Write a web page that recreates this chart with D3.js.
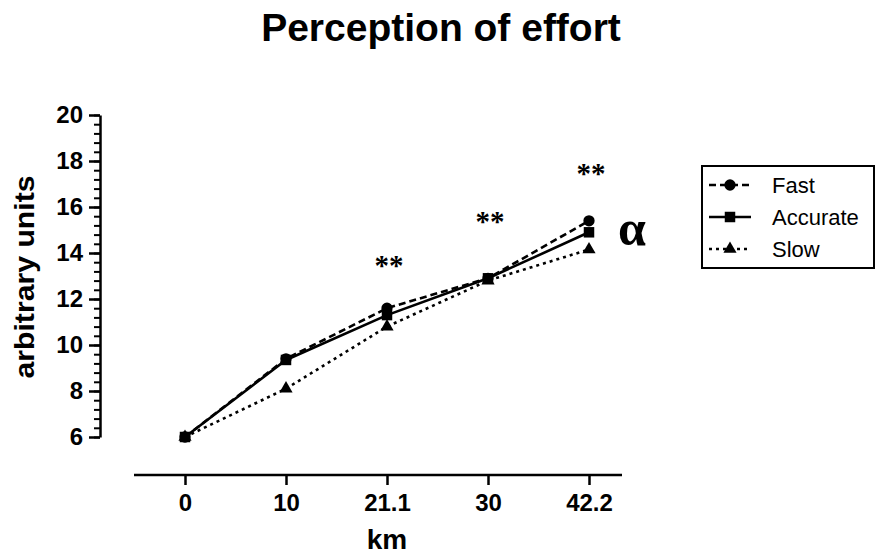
<!DOCTYPE html>
<html>
<head>
<meta charset="utf-8">
<script src="https://cdn.jsdelivr.net/npm/d3@7"></script>
<style>
  body { margin: 0; background: #fff; }
  svg { display: block; font-family: Arial, "Liberation Sans", sans-serif; }
</style>
</head>
<body>
<svg id="chart" width="877" height="556"></svg>
<script>
// data
var km = ["0", "10", "21.1", "30", "42.2"];
var fast = [6.0, 9.4, 11.6, 12.9, 15.4];
var accurate = [6.0, 9.35, 11.3, 12.9, 14.9];
var slow = [6.0, 8.1, 10.8, 12.8, 14.15];
var yTicks = [6, 8, 10, 12, 14, 16, 18, 20];
var stars = [null, null, "**", "**", "**"];
var starLevel = [null, null, 13.7, 15.6, 17.7];

var svg = d3.select("#chart");

var x = d3.scalePoint().domain(km).range([185, 589]);
var y = d3.scaleLinear().domain([6, 20]).range([437, 115]);

// title
svg.append("text")
    .attr("x", 441).attr("y", 41)
    .attr("text-anchor", "middle")
    .attr("font-size", "39px").attr("font-weight", "bold")
    .text("Perception of effort");

// y axis, minor ticks first
var yMinor = svg.append("g").attr("transform", "translate(100,0)")
    .call(d3.axisLeft(y).tickValues(d3.range(6, 20.01, 0.4)).tickSize(6).tickFormat(""));
yMinor.select(".domain").remove();
yMinor.selectAll("line").attr("stroke", "#000").attr("stroke-width", 2);

var yAxis = svg.append("g").attr("transform", "translate(100,0)")
    .call(d3.axisLeft(y).tickValues(yTicks).tickSize(11).tickSizeOuter(0).tickPadding(6));
yAxis.select(".domain").attr("stroke", "#000").attr("stroke-width", 2.5);
yAxis.selectAll("line").attr("stroke", "#000").attr("stroke-width", 2.5);
yAxis.selectAll("text").attr("font-size", "24px").attr("font-weight", "bold")
    .attr("font-family", "Arial, 'Liberation Sans', sans-serif").attr("fill", "#000");

// x axis
var xAxis = svg.append("g").attr("transform", "translate(0,475)")
    .call(d3.axisBottom(x).tickSize(10).tickSizeOuter(0).tickPadding(9));
xAxis.select(".domain").attr("d", "M134,0H622").attr("stroke", "#000").attr("stroke-width", 2.5);
xAxis.selectAll("line").attr("stroke", "#000").attr("stroke-width", 2.5);
xAxis.selectAll("text").attr("font-size", "24px").attr("font-weight", "bold")
    .attr("font-family", "Arial, 'Liberation Sans', sans-serif").attr("fill", "#000");

// axis titles
svg.append("text")
    .attr("x", 387).attr("y", 549)
    .attr("text-anchor", "middle")
    .attr("font-size", "28px").attr("font-weight", "bold")
    .text("km");
svg.append("text")
    .attr("transform", "translate(34,277) rotate(-90)")
    .attr("text-anchor", "middle")
    .attr("font-size", "27px").attr("font-weight", "bold")
    .attr("textLength", 203).attr("lengthAdjust", "spacingAndGlyphs")
    .text("arbitrary units");

// series
var series = [
  { name: "Fast", values: fast, dash: "7,4", symbol: d3.symbolCircle, size: 100 },
  { name: "Accurate", values: accurate, dash: null, symbol: d3.symbolSquare, size: 110 },
  { name: "Slow", values: slow, dash: "3,4", symbol: d3.symbolTriangle, size: 75 }
];

var line = d3.line()
    .x(function(d, i) { return x(km[i]); })
    .y(function(d) { return y(d); });

series.forEach(function(s) {
  svg.append("path")
      .attr("d", line(s.values))
      .attr("fill", "none")
      .attr("stroke", "#000")
      .attr("stroke-width", 2.6)
      .attr("stroke-dasharray", s.dash);
  svg.selectAll(null).data(s.values).enter().append("path")
      .attr("transform", function(d, i) { return "translate(" + x(km[i]) + "," + y(d) + ")"; })
      .attr("d", d3.symbol().type(s.symbol).size(s.size))
      .attr("fill", "#000");
});

// significance marks
km.forEach(function(k, i) {
  if (!stars[i]) return;
  svg.append("text")
      .attr("x", x(k) + 2).attr("y", y(starLevel[i]) + 15)
      .attr("text-anchor", "middle")
      .attr("font-family", "'Liberation Serif', 'DejaVu Serif', serif")
      .attr("font-size", "29px").attr("font-weight", "bold")
      .text(stars[i]);
});
svg.append("text")
    .attr("x", 618).attr("y", 245)
    .attr("font-family", "'Liberation Serif', 'DejaVu Serif', serif")
    .attr("font-size", "50px").attr("font-weight", "bold")
    .text("\u03b1");

// legend
var legend = svg.append("g");
legend.append("rect")
    .attr("x", 702).attr("y", 166).attr("width", 172).attr("height", 102)
    .attr("fill", "none").attr("stroke", "#000").attr("stroke-width", 2);
series.forEach(function(s, i) {
  var ly = 185 + i * 32;
  legend.append("line")
      .attr("x1", 709).attr("x2", 751).attr("y1", ly).attr("y2", ly)
      .attr("stroke", "#000").attr("stroke-width", 2.6)
      .attr("stroke-dasharray", s.dash);
  legend.append("path")
      .attr("transform", "translate(730," + ly + ")")
      .attr("d", d3.symbol().type(s.symbol).size(s.size))
      .attr("fill", "#000");
  legend.append("text")
      .attr("x", 772).attr("y", ly + 8)
      .attr("font-size", "22px")
      .text(s.name);
});
</script>
</body>
</html>
